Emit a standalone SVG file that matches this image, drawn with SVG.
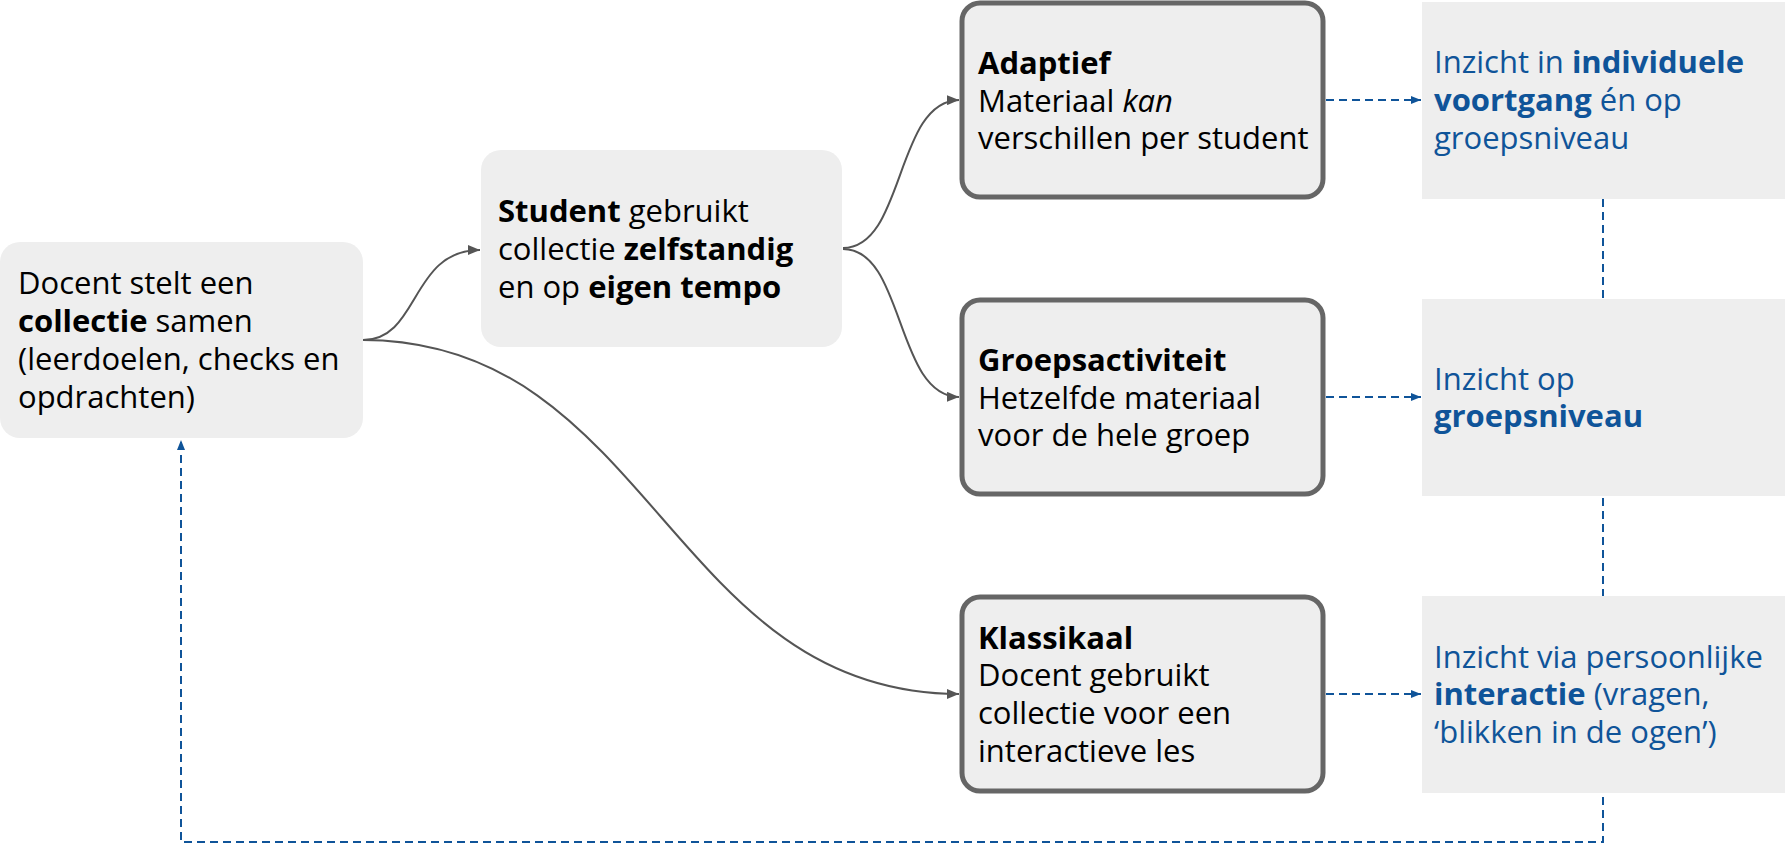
<svg xmlns="http://www.w3.org/2000/svg" width="1787" height="843" viewBox="0 0 1787 843">
  <defs>
    <style>
      .txt { font-family: "Open Sans", "Noto Sans", "Liberation Sans", sans-serif; font-size: 31px; fill: #000000; }
      .insight { fill: #0f5499; }
      .b { font-weight: 700; }
      .i { font-style: italic; }
      .soft { fill: #eeeeee; }
      .framed { fill: #eeeeee; stroke: #666666; stroke-width: 5; }
      .flow { fill: none; stroke: #555555; stroke-width: 2; }
      .feedback { fill: none; stroke: #0f5499; stroke-width: 2; stroke-dasharray: 8 5; }
    </style>
    <marker id="arrow-gray" viewBox="0 0 12 10" refX="12" refY="5" markerWidth="12" markerHeight="10" markerUnits="userSpaceOnUse" orient="auto">
      <path d="M0,0 L12,5 L0,10 Z" fill="#555555"/>
    </marker>
    <marker id="arrow-blue" viewBox="0 0 10 8" refX="10" refY="4" markerWidth="10" markerHeight="8" markerUnits="userSpaceOnUse" orient="auto">
      <path d="M0,0 L10,4 L0,8 Z" fill="#0f5499"/>
    </marker>
  </defs>

  <rect width="1787" height="843" fill="#ffffff"/>

  <!-- connectors -->
  <g id="connectors">
    <path class="flow" d="M363,340 C420,340 410,250 480,250" marker-end="url(#arrow-gray)"/>
    <path class="flow" d="M363,340 C651,340 671,694 959,694" marker-end="url(#arrow-gray)"/>
    <path class="flow" d="M843,248 C905,248 895,101 959,100" marker-end="url(#arrow-gray)"/>
    <path class="flow" d="M843,249 C905,249 895,396 959,397" marker-end="url(#arrow-gray)"/>
    <path class="feedback" d="M1326,100 L1421,100" marker-end="url(#arrow-blue)"/>
    <path class="feedback" d="M1326,397 L1421,397" marker-end="url(#arrow-blue)"/>
    <path class="feedback" d="M1326,694 L1421,694" marker-end="url(#arrow-blue)"/>
    <path class="feedback" d="M1603,199 L1603,842 L181,842 L181,440" marker-end="url(#arrow-blue)"/>
  </g>

  <!-- teacher composes a collection -->
  <g id="node-docent">
    <rect class="soft" x="0" y="242" width="363" height="196" rx="20"/>
    <text class="txt">
      <tspan x="18" y="294">Docent stelt een</tspan>
      <tspan x="18" y="332"><tspan class="b">collectie</tspan> samen</tspan>
      <tspan x="18" y="370">(leerdoelen, checks en</tspan>
      <tspan x="18" y="408">opdrachten)</tspan>
    </text>
  </g>

  <!-- student works independently -->
  <g id="node-student">
    <rect class="soft" x="481" y="150" width="361" height="197" rx="20"/>
    <text class="txt">
      <tspan x="498" y="222"><tspan class="b">Student</tspan> gebruikt</tspan>
      <tspan x="498" y="260">collectie <tspan class="b">zelfstandig</tspan></tspan>
      <tspan x="498" y="298">en op <tspan class="b">eigen tempo</tspan></tspan>
    </text>
  </g>

  <g id="node-adaptief">
    <rect class="framed" x="962" y="3" width="361" height="194" rx="18"/>
    <text class="txt">
      <tspan class="b" x="978" y="74">Adaptief</tspan>
      <tspan x="978" y="111.5">Materiaal <tspan class="i">kan</tspan></tspan>
      <tspan x="978" y="149">verschillen per student</tspan>
    </text>
  </g>

  <g id="node-groep">
    <rect class="framed" x="962" y="300" width="361" height="194" rx="18"/>
    <text class="txt">
      <tspan class="b" x="978" y="371">Groepsactiviteit</tspan>
      <tspan x="978" y="408.5">Hetzelfde materiaal</tspan>
      <tspan x="978" y="446">voor de hele groep</tspan>
    </text>
  </g>

  <g id="node-klassikaal">
    <rect class="framed" x="962" y="597" width="361" height="194" rx="18"/>
    <text class="txt">
      <tspan class="b" x="978" y="648.5">Klassikaal</tspan>
      <tspan x="978" y="686">Docent gebruikt</tspan>
      <tspan x="978" y="724">collectie voor een</tspan>
      <tspan x="978" y="761.5">interactieve les</tspan>
    </text>
  </g>

  <!-- insight boxes -->
  <g id="insight-individueel">
    <rect class="soft" x="1422" y="2" width="363" height="197"/>
    <text class="txt insight">
      <tspan x="1434" y="73">Inzicht in <tspan class="b">individuele</tspan></tspan>
      <tspan x="1434" y="111"><tspan class="b">voortgang</tspan> én op</tspan>
      <tspan x="1434" y="148.5">groepsniveau</tspan>
    </text>
  </g>

  <g id="insight-groep">
    <rect class="soft" x="1422" y="299" width="363" height="197"/>
    <text class="txt insight">
      <tspan x="1434" y="389.5">Inzicht op</tspan>
      <tspan class="b" x="1434" y="427">groepsniveau</tspan>
    </text>
  </g>

  <g id="insight-interactie">
    <rect class="soft" x="1422" y="596" width="363" height="197"/>
    <text class="txt insight">
      <tspan x="1434" y="667.5">Inzicht via persoonlijke</tspan>
      <tspan x="1434" y="705"><tspan class="b">interactie</tspan> (vragen,</tspan>
      <tspan x="1434" y="743">‘blikken in de ogen’)</tspan>
    </text>
  </g>
</svg>
